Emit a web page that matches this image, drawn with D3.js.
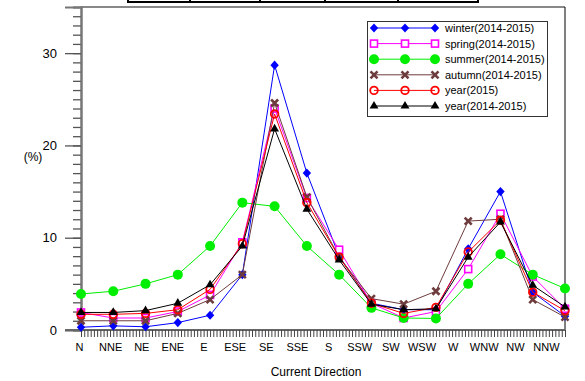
<!DOCTYPE html>
<meta charset="utf-8">
<head>
    <title>Current direction frequency</title>
    <script src="https://d3js.org/d3.v7.min.js"></script>
</head>

<style>
body { margin: 0; background: #fff; }
svg { font-family: "Liberation Sans", Arial, sans-serif; }
</style>

<body>
<svg></svg>
<script>

// categories
let directions = ["N", "NNE", "NE", "ENE", "E", "ESE", "SE", "SSE",
                  "S", "SSW", "SW", "WSW", "W", "WNW", "NW", "NNW"];

// series values (%)
let winter  = [0.3, 0.45, 0.35, 0.8, 1.6, 6.0, 28.7, 17.0, 8.0, 2.9, 2.2, 2.2, 8.8, 15.0, 4.1, 1.5];
let spring  = [1.9, 1.3, 1.3, 2.0, 3.8, 9.5, 24.0, 14.3, 8.7, 2.9, 1.3, 2.0, 6.6, 12.6, 5.8, 2.3];
let summer  = [3.9, 4.2, 5.0, 6.0, 9.1, 13.8, 13.4, 9.1, 6.0, 2.4, 1.3, 1.25, 5.0, 8.2, 6.0, 4.5];
let autumn  = [1.0, 1.0, 1.0, 1.8, 3.3, 6.0, 24.6, 14.4, 7.9, 3.4, 2.8, 4.2, 11.8, 12.0, 3.3, 1.4];
let year15  = [1.7, 1.7, 1.8, 2.2, 4.4, 9.35, 23.4, 13.8, 7.9, 2.9, 1.8, 2.45, 8.45, 11.9, 4.1, 2.1];
let year1415 = [1.9, 1.9, 2.1, 2.9, 4.9, 9.1, 21.8, 13.1, 7.6, 2.8, 2.2, 2.3, 7.9, 11.7, 4.85, 2.5];

// tick labels
let yTicks = [0, 10, 20, 30];
let seriesNames = ["winter(2014-2015)", "spring(2014-2015)", "summer(2014-2015)",
                   "autumn(2014-2015)", "year(2015)", "year(2014-2015)"];

let series = [
  {name: seriesNames[0], values: winter,   color: "#0000ff", mark: "diamond"},
  {name: seriesNames[1], values: spring,   color: "#ff00ff", mark: "square"},
  {name: seriesNames[2], values: summer,   color: "#00ee00", mark: "circle"},
  {name: seriesNames[3], values: autumn,   color: "#6e3c3c", mark: "cross"},
  {name: seriesNames[4], values: year15,   color: "#ff0000", mark: "ring"},
  {name: seriesNames[5], values: year1415, color: "#000000", mark: "triangle"}
];

let W = 585, H = 381;
let plotL = 81, plotR = 565, plotT = 7, plotB = 330;

let svg = d3.select("svg").attr("width", W).attr("height", H);

// scales
let x = d3.scalePoint().domain(directions).range([plotL, plotR]);
let xLab = d3.scalePoint().domain(directions).range([79, 546]);
let xMinor = d3.scaleLinear().domain([0, directions.length - 1]).range([plotL, plotR]);
let y = d3.scaleLinear().domain([0, 35]).range([plotB, plotT]);

// partial table peeking in at the top
let tbl = svg.append("g");
tbl.append("rect").attr("x", 128).attr("y", -10).attr("width", 350).attr("height", 12)
  .attr("fill", "none").attr("stroke", "#000").attr("stroke-width", 2);
[190, 260, 325, 398].forEach(function(d) {
  tbl.append("line").attr("x1", d).attr("x2", d).attr("y1", -2).attr("y2", 2)
    .attr("stroke", "#000").attr("stroke-width", 2);
});

// frame
svg.append("line").attr("x1", plotL).attr("x2", plotR).attr("y1", plotT).attr("y2", plotT)
  .attr("stroke", "#888").attr("stroke-width", 2);
svg.append("line").attr("x1", plotR).attr("x2", plotR).attr("y1", plotT).attr("y2", plotB)
  .attr("stroke", "#000").attr("stroke-width", 1);

// y axis, minor ticks
let yMinor = svg.append("g")
  .attr("transform", "translate(" + plotL + ",0)")
  .call(d3.axisLeft(y).tickValues(d3.range(0, 36)).tickSize(8).tickFormat(""));
// y axis, major ticks
let yMajor = svg.append("g")
  .attr("transform", "translate(" + plotL + ",0)")
  .call(d3.axisLeft(y).tickValues(yTicks).tickSize(16).tickPadding(8));
[yMinor, yMajor].forEach(function(g) {
  g.select(".domain").attr("stroke", "#777").attr("stroke-width", 2);
  g.selectAll(".tick line").attr("stroke", "#555").attr("stroke-width", 1.3);
});
yMajor.selectAll(".tick text").attr("font-size", 13).attr("fill", "#000")
  .attr("font-family", "Liberation Sans, Arial, sans-serif");

// x axis, minor ticks
let xAxis = svg.append("g")
  .attr("transform", "translate(0," + plotB + ")")
  .call(d3.axisBottom(xMinor).tickValues(d3.range(0, 15.001, 0.1)).tickSize(7).tickFormat(""));
xAxis.select(".domain").attr("stroke", "#666").attr("stroke-width", 2)
  .attr("d", "M65,0H" + plotR);
xAxis.selectAll(".tick line").attr("stroke", "#444").attr("stroke-width", 1);

// x tick labels
let xLabels = svg.append("g")
  .attr("transform", "translate(0," + plotB + ")")
  .call(d3.axisBottom(xLab).tickSize(0).tickPadding(13));
xLabels.select(".domain").remove();
xLabels.selectAll(".tick text").attr("font-size", 11).attr("fill", "#000")
  .attr("font-family", "Liberation Sans, Arial, sans-serif");

// axis titles
svg.append("text").attr("x", 316).attr("y", 376).attr("text-anchor", "middle")
  .attr("font-size", 12).text("Current Direction");
svg.append("text").attr("x", 33).attr("y", 161).attr("text-anchor", "middle")
  .attr("font-size", 12).text("(%)");

// markers
function drawMark(g, s, cx, cy) {
  if (s.mark === "diamond") {
    g.append("path").attr("d", "M0,-4.6L4.2,0L0,4.6L-4.2,0Z")
      .attr("transform", "translate(" + cx + "," + cy + ")").attr("fill", s.color);
  } else if (s.mark === "square") {
    g.append("rect").attr("x", cx - 3.5).attr("y", cy - 3.5).attr("width", 7).attr("height", 7)
      .attr("fill", "#fff").attr("stroke", s.color).attr("stroke-width", 1.6);
  } else if (s.mark === "circle") {
    g.append("circle").attr("cx", cx).attr("cy", cy).attr("r", 5).attr("fill", s.color);
  } else if (s.mark === "cross") {
    g.append("path").attr("d", "M-3.5,-3.5L3.5,3.5M-3.5,3.5L3.5,-3.5")
      .attr("transform", "translate(" + cx + "," + cy + ")")
      .attr("stroke", s.color).attr("stroke-width", 2.6).attr("fill", "none");
  } else if (s.mark === "ring") {
    g.append("circle").attr("cx", cx).attr("cy", cy).attr("r", 3.8)
      .attr("fill", "none").attr("stroke", s.color).attr("stroke-width", 1.8);
  } else if (s.mark === "triangle") {
    g.append("path").attr("d", d3.symbol(d3.symbolTriangle, 34)())
      .attr("transform", "translate(" + cx + "," + cy + ")").attr("fill", s.color);
  }
}

let line = d3.line()
  .x(function(d, i) { return x(directions[i]); })
  .y(function(d) { return y(d); });

series.forEach(function(s) {
  let g = svg.append("g");
  g.append("path").datum(s.values).attr("d", line)
    .attr("fill", "none").attr("stroke", s.color).attr("stroke-width", 1);
  s.values.forEach(function(v, i) { drawMark(g, s, x(directions[i]), y(v)); });
});

// legend
let leg = svg.append("g");
leg.append("rect").attr("x", 367.5).attr("y", 21.5).attr("width", 180).attr("height", 95)
  .attr("fill", "#fff").attr("stroke", "#333").attr("stroke-width", 1);
series.forEach(function(s, i) {
  let ly = 28 + i * 15.6;
  let g = leg.append("g");
  g.append("line").attr("x1", 374).attr("x2", 435).attr("y1", ly).attr("y2", ly)
    .attr("stroke", s.color).attr("stroke-width", 1);
  [374, 405, 435].forEach(function(lx) { drawMark(g, s, lx, ly); });
  g.append("text").attr("x", 445).attr("y", ly + 4).attr("font-size", 11).text(s.name);
});

</script>
</body>
